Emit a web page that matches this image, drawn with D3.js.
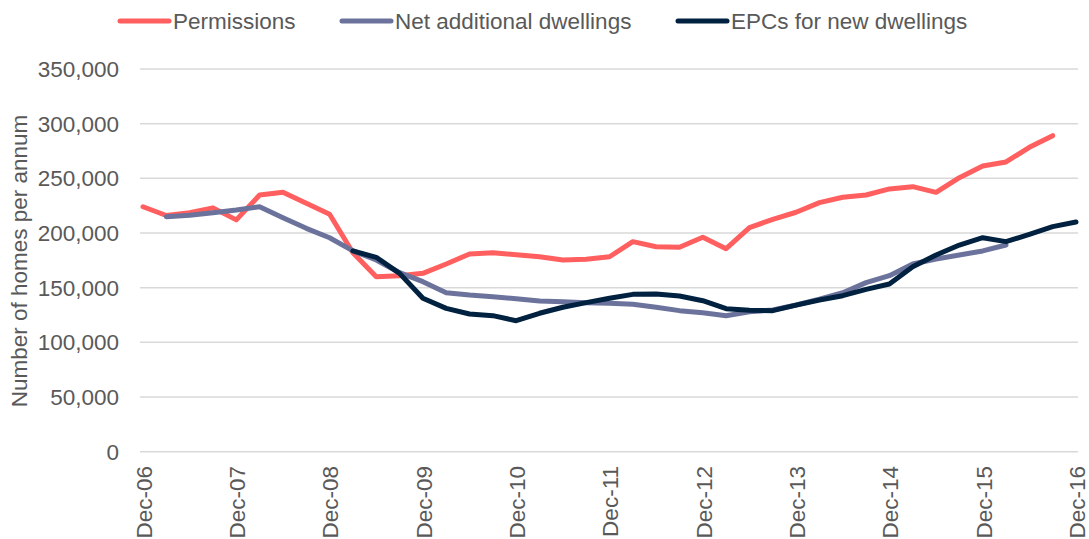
<!DOCTYPE html>
<html>
<head>
<meta charset="utf-8">
<script src="https://cdn.jsdelivr.net/npm/d3@7"></script>
<style>
  body { margin: 0; background: #fff; }
  #chart { width: 1089px; height: 539px; }
  text { font-family: "Liberation Sans", Arial, sans-serif; fill: #595959; }
</style>
</head>
<body>
<div id="chart"></div>
<script>
// quarters Dec-06 .. Dec-16
var quarters = [];
var years = ["06","07","08","09","10","11","12","13","14","15","16"];
var months = ["Dec","Mar","Jun","Sep"];
for (var i = 0; i < 41; i++) {
    quarters.push(months[i % 4] + "-" + years[Math.ceil(i / 4)]);
}
var tickLabels = ["Dec-06","Dec-07","Dec-08","Dec-09","Dec-10","Dec-11","Dec-12","Dec-13","Dec-14","Dec-15","Dec-16"];

var permissions = [224000,216000,218500,223000,212000,234800,237200,227200,217100,182000,
    160000,161000,163100,171700,180800,182000,180200,178300,175300,176000,
    178300,192100,187500,187000,196100,185700,204900,212500,219000,227800,
    232700,234800,240300,242400,237200,250600,261300,265000,278400,289000,null];

var netAdditional = [null,214900,216200,218600,221000,224100,214000,204300,195700,183600,
    175300,163700,155500,145400,143300,141800,139900,137800,137200,136300,
    135700,134800,132100,129000,127100,124400,128000,129600,134200,139400,
    145400,154600,161000,171700,176200,179900,183600,189000,null,null,null];

var epcs = [null,null,null,null,null,null,null,null,null,183600,
    177800,163100,140300,131100,125900,124400,119800,126600,132100,136300,
    140300,143900,144200,142400,138100,130800,129300,129000,134000,138700,
    142700,148500,153400,169200,179900,189000,195700,192100,198800,205800,210100];

var yTicks = [0,50000,100000,150000,200000,250000,300000,350000];

var series = [
    {name: "Permissions", values: permissions, color: "#FF5F5F"},
    {name: "Net additional dwellings", values: netAdditional, color: "#6B739C"},
    {name: "EPCs for new dwellings", values: epcs, color: "#00213F"}
];

var width = 1089, height = 539;
var fontSize = "22.5px";

var svg = d3.select("#chart").append("svg")
    .attr("width", width)
    .attr("height", height);

var x = d3.scalePoint()
    .domain(quarters)
    .range([143, 1076]);

var y = d3.scaleLinear()
    .domain([0, 350000])
    .range([451.7, 69]);

// gridlines
svg.append("g")
    .selectAll("line")
    .data(yTicks)
    .enter()
    .append("line")
        .attr("x1", 140)
        .attr("x2", 1078)
        .attr("y1", function(d) { return y(d); })
        .attr("y2", function(d) { return y(d); })
        .attr("stroke", "#D9D9D9")
        .attr("stroke-width", 1.5);

// y tick labels
svg.append("g")
    .selectAll("text")
    .data(yTicks)
    .enter()
    .append("text")
        .attr("x", 119)
        .attr("y", function(d) { return y(d); })
        .attr("dy", "0.35em")
        .attr("text-anchor", "end")
        .attr("font-size", fontSize)
        .text(function(d) { return d3.format(",")(d); });

// x tick labels
svg.append("g")
    .selectAll("text")
    .data(tickLabels)
    .enter()
    .append("text")
        .attr("transform", function(d) { return "translate(" + (x(d) + 1) + ",466) rotate(-90)"; })
        .attr("dy", "0.35em")
        .attr("text-anchor", "end")
        .attr("font-size", fontSize)
        .text(function(d) { return d; });

// y axis title
svg.append("text")
    .attr("transform", "translate(19,261) rotate(-90)")
    .attr("dy", "0.35em")
    .attr("text-anchor", "middle")
    .attr("font-size", fontSize)
    .text("Number of homes per annum");

var line = d3.line()
    .defined(function(d) { return d != null; })
    .x(function(d, i) { return x(quarters[i]); })
    .y(function(d) { return y(d); });

svg.append("g")
    .selectAll("path")
    .data(series)
    .enter()
    .append("path")
        .attr("d", function(d) { return line(d.values); })
        .attr("fill", "none")
        .attr("stroke", function(d) { return d.color; })
        .attr("stroke-width", 5)
        .attr("stroke-linejoin", "round")
        .attr("stroke-linecap", "round");

// legend
var legendX = [118, 340, 676];
var legend = svg.append("g")
    .selectAll("g")
    .data(series)
    .enter()
    .append("g")
        .attr("transform", function(d, i) { return "translate(" + legendX[i] + ",21)"; });

legend.append("line")
    .attr("x1", 2)
    .attr("x2", 51)
    .attr("stroke", function(d) { return d.color; })
    .attr("stroke-width", 5)
    .attr("stroke-linecap", "round");

legend.append("text")
    .attr("x", 55)
    .attr("dy", "0.35em")
    .attr("font-size", fontSize)
    .text(function(d) { return d.name; });
</script>
</body>
</html>
